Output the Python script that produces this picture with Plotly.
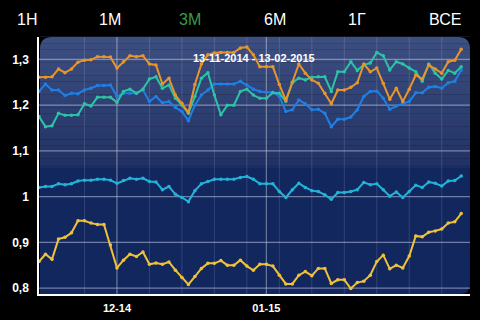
import plotly.graph_objects as go

# ---- data (business-day index 0..65, 13-11-2014 .. 13-02-2015) ----
orange = [1.261, 1.261, 1.262, 1.279, 1.271, 1.279, 1.294, 1.298, 1.299, 1.306, 1.306, 1.305,
          1.281, 1.295, 1.308, 1.306, 1.308, 1.290, 1.288, 1.246, 1.259, 1.222, 1.204, 1.184,
          1.245, 1.290, 1.310, 1.314, 1.315, 1.315, 1.315, 1.325, 1.327, 1.310, 1.284, 1.284,
          1.284, 1.245, 1.211, 1.250, 1.290, 1.270, 1.255, 1.248, 1.226, 1.203, 1.233, 1.233,
          1.239, 1.249, 1.290, 1.273, 1.281, 1.248, 1.213, 1.237, 1.208, 1.235, 1.266, 1.257,
          1.288, 1.279, 1.270, 1.295, 1.298, 1.322]
blue = [1.230, 1.246, 1.233, 1.233, 1.221, 1.226, 1.225, 1.233, 1.237, 1.243, 1.243, 1.244,
        1.219, 1.226, 1.226, 1.226, 1.233, 1.208, 1.219, 1.205, 1.208, 1.195, 1.186, 1.166,
        1.200, 1.222, 1.233, 1.246, 1.246, 1.246, 1.246, 1.252, 1.244, 1.235, 1.230, 1.228,
        1.228, 1.219, 1.186, 1.190, 1.211, 1.203, 1.190, 1.191, 1.182, 1.153, 1.169, 1.169,
        1.174, 1.190, 1.219, 1.230, 1.231, 1.215, 1.191, 1.198, 1.203, 1.208, 1.227, 1.227,
        1.239, 1.241, 1.237, 1.249, 1.252, 1.277]
teal = [1.175, 1.153, 1.155, 1.182, 1.178, 1.178, 1.179, 1.203, 1.198, 1.217, 1.217, 1.217,
        1.206, 1.230, 1.235, 1.226, 1.235, 1.257, 1.262, 1.237, 1.244, 1.215, 1.200, 1.182,
        1.219, 1.259, 1.271, 1.222, 1.179, 1.200, 1.200, 1.230, 1.235, 1.222, 1.215, 1.215,
        1.227, 1.226, 1.208, 1.249, 1.259, 1.255, 1.261, 1.262, 1.262, 1.230, 1.273, 1.273,
        1.295, 1.276, 1.288, 1.292, 1.315, 1.308, 1.277, 1.295, 1.290, 1.281, 1.273, 1.252,
        1.290, 1.270, 1.257, 1.276, 1.270, 1.284]
cyan = [1.020, 1.022, 1.022, 1.028, 1.026, 1.028, 1.034, 1.036, 1.036, 1.038, 1.038, 1.036,
        1.029, 1.035, 1.040, 1.038, 1.040, 1.033, 1.032, 1.015, 1.022, 1.005, 0.998, 0.989,
        1.013, 1.028, 1.033, 1.038, 1.038, 1.038, 1.038, 1.042, 1.044, 1.038, 1.028, 1.028,
        1.028, 1.011, 0.998, 1.015, 1.029, 1.020, 1.013, 1.011, 1.004, 0.994, 1.009, 1.009,
        1.011, 1.015, 1.031, 1.026, 1.028, 1.015, 1.001, 1.010, 0.998, 1.011, 1.025, 1.020,
        1.032, 1.029, 1.023, 1.034, 1.035, 1.045]
yellow = [0.858, 0.874, 0.863, 0.907, 0.911, 0.921, 0.947, 0.947, 0.942, 0.939, 0.939, 0.894,
          0.844, 0.861, 0.874, 0.869, 0.879, 0.852, 0.855, 0.852, 0.857, 0.839, 0.823, 0.808,
          0.825, 0.843, 0.854, 0.854, 0.860, 0.850, 0.850, 0.861, 0.848, 0.839, 0.852, 0.852,
          0.848, 0.828, 0.809, 0.809, 0.828, 0.836, 0.827, 0.843, 0.843, 0.810, 0.818, 0.818,
          0.799, 0.812, 0.815, 0.828, 0.858, 0.872, 0.842, 0.850, 0.844, 0.870, 0.914, 0.912,
          0.922, 0.925, 0.929, 0.942, 0.945, 0.963]

week_idx = [7, 12, 17, 22, 27, 32, 37, 42, 47, 52, 57, 62]
month_idx = [12, 35]
month_labels = ["12-14", "01-15"]
ytick_vals = [0.8, 0.9, 1.0, 1.1, 1.2, 1.3]
ytick_text = ["0,8", "0,9", "1", "1,1", "1,2", "1,3"]
buttons = ["1Н", "1М", "3М", "6М", "1Г", "ВСЕ"]
button_px = [27, 110, 190, 275, 357, 445]
title_text = "13-11-2014 - 13-02-2015"

# ---- geometry ----
L, R, T, B = 39, 10, 37, 26
W, H = 480, 320
PW, PH = W - L - R, H - T - B
x = list(range(len(orange)))

fig = go.Figure()

def add_series(y, color):
    fig.add_trace(go.Scatter(x=x, y=y, mode="lines+markers",
                             line=dict(color=color, width=2),
                             marker=dict(color=color, size=3.5),
                             cliponaxis=False, showlegend=False, hoverinfo="skip"))

add_series(cyan, "#24b3d6")
add_series(yellow, "#efc23a")
add_series(blue, "#1f7fe3")
add_series(teal, "#2cc3a6")
add_series(orange, "#e8952c")

shapes = []
# background bands
x0 = 1 / PW
split = 0.502
nb = 20
top_c = (62, 80, 130)
mid_c = (34, 50, 100)
for i in range(nb):
    f = i / nb
    c = tuple(int(top_c[k] + (mid_c[k] - top_c[k]) * (f + 0.5 / nb)) for k in range(3))
    y1 = 1 - f * (1 - split)
    y0 = 1 - (f + 1 / nb) * (1 - split)
    shapes.append(dict(type="rect", xref="paper", yref="paper", x0=x0, x1=1, y0=y0, y1=y1 + 0.001,
                       fillcolor="rgb(%d,%d,%d)" % c, line=dict(width=0), layer="below"))
shapes.append(dict(type="rect", xref="paper", yref="paper", x0=x0, x1=1, y0=0, y1=split,
                   fillcolor="#13275f", line=dict(width=0), layer="below"))
shapes.append(dict(type="rect", xref="paper", yref="paper", x0=x0, x1=1, y0=split - 0.012, y1=split,
                   fillcolor="#182d66", line=dict(width=0), layer="below"))

# corner masks
def corner(cx, cy, sx, sy, r):
    rx, ry = r / PW, r / PH
    return dict(type="path", xref="paper", yref="paper",
                path="M %f,%f L %f,%f Q %f,%f %f,%f Z" % (cx, cy, cx + sx * rx, cy, cx, cy, cx, cy + sy * ry),
                fillcolor="black", line=dict(width=0), layer="below")
shapes.append(corner(x0, 1, 1, -1, 12))
shapes.append(corner(1, 1, -1, -1, 12))
shapes.append(corner(1, 0, -1, 1, 10))

# vertical grid
for i in week_idx:
    if i in month_idx:
        continue
    shapes.append(dict(type="line", xref="x", yref="paper", x0=i, x1=i, y0=0, y1=1,
                       line=dict(color="rgba(255,255,255,0.13)", width=1), layer="below"))
for i in month_idx:
    shapes.append(dict(type="line", xref="x", yref="paper", x0=i, x1=i, y0=0, y1=1,
                       line=dict(color="rgba(255,255,255,0.38)", width=1.2), layer="below"))
# horizontal grid
for v in ytick_vals:
    shapes.append(dict(type="line", xref="paper", yref="y", x0=0, x1=1, y0=v, y1=v,
                       line=dict(color="rgba(190,198,225,0.55)", width=1.3), layer="below"))

annotations = []
for lab, px in zip(buttons, button_px):
    annotations.append(dict(text=lab, xref="paper", yref="paper", x=(px - L) / PW, y=(H - B - 19) / PH,
                            showarrow=False, xanchor="center", yanchor="middle",
                            font=dict(family="Liberation Sans, Arial, sans-serif", size=16,
                                      color="#3a9a48" if lab == "3М" else "white")))
annotations.append(dict(text="<b>" + title_text + "</b>", xref="paper", yref="paper",
                        x=(254 - L) / PW, y=(H - B - 58) / PH, showarrow=False,
                        xanchor="center", yanchor="middle",
                        font=dict(family="Liberation Sans, Arial, sans-serif", size=11, color="white")))

fig.update_layout(
    width=W, height=H, margin=dict(l=L, r=R, t=T, b=B, autoexpand=False),
    paper_bgcolor="black", plot_bgcolor="black",
    shapes=shapes, annotations=annotations,
    xaxis=dict(range=[0, 66.35], showgrid=False, zeroline=False, showline=True,
               linecolor="white", linewidth=1.5, tickvals=month_idx,
               ticktext=["<b>%s</b>" % t for t in month_labels], ticks="",
               tickfont=dict(family="Liberation Sans, Arial, sans-serif", size=11, color="white"),
               ticklabelstandoff=3, automargin=False, fixedrange=True),
    yaxis=dict(range=[0.787, 1.349], showgrid=False, zeroline=False, showline=True,
               linecolor="white", linewidth=1.5, tickvals=ytick_vals,
               ticktext=["<b>%s</b>" % t for t in ytick_text], ticks="",
               tickfont=dict(family="Liberation Sans, Arial, sans-serif", size=12, color="white"),
               ticklabelstandoff=6, automargin=False, fixedrange=True),
)

fig.write_html("out.html", config={"displayModeBar": False})
